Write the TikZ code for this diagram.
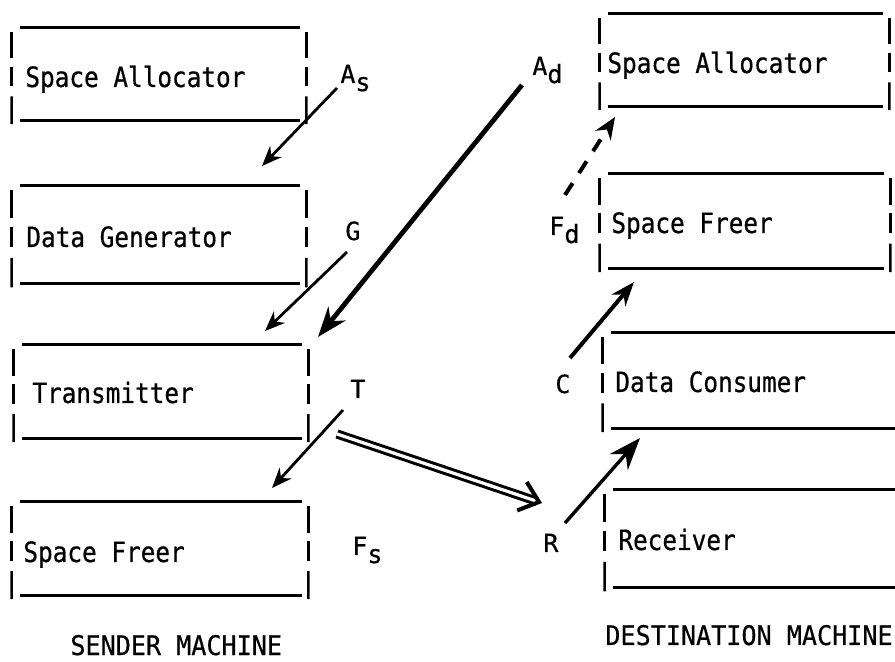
\documentclass[tikz,border=0pt]{standalone}
\usepackage{fontspec}
\usetikzlibrary{arrows.meta,calc,fit}
\newfontfamily\boxfont[FakeStretch=0.87,FakeBold=0.6]{DejaVu Sans Mono}
\newfontfamily\lblfont[FakeBold=0.6]{DejaVu Sans Mono}
\newfontfamily\machfont[FakeStretch=0.93,FakeBold=0.5]{DejaVu Sans Mono}
\newcommand\lowsub[1]{\raisebox{-4pt}{#1}}
\newcommand\mybxframe[2]{%
  \draw[boxline] ([xshift=4pt]#1.north west) -- ([xshift=-3pt]#1.north east);
  \draw[boxline] ([xshift=4pt]#1.south west) -- ([xshift=-3pt]#1.south east);
  \foreach \s in {#2}{%
    \draw[tickline] ($(#1.north \s)!0.05!(#1.south \s)$) -- ($(#1.north \s)!0.33!(#1.south \s)$);
    \draw[tickline] ($(#1.north \s)!0.42!(#1.south \s)$) -- ($(#1.north \s)!0.63!(#1.south \s)$);
    \draw[tickline] ($(#1.north \s)!0.74!(#1.south \s)$) -- ($(#1.north \s)!1.04!(#1.south \s)$);
  }}
\tikzset{
  boxn/.style={inner sep=0pt, draw=none},
  boxline/.style={line width=1.3pt},
  tickline/.style={line width=1.2pt},
  btext/.style={inner sep=0pt, anchor=base west, font=\boxfont\fontsize{14}{16}\selectfont},
  lbl/.style={inner sep=0pt, anchor=base west, font=\lblfont\fontsize{12.5}{14}\selectfont},
  mach/.style={inner sep=0pt, anchor=base west, font=\machfont\fontsize{13.5}{15}\selectfont},
  thinarrow/.style={line width=1.4pt, -{Stealth[length=10pt,width=8pt]}},
  thickarrow/.style={line width=2.4pt, -{Stealth[length=15pt,width=11pt]}},
  dblarrow/.style={line width=1.5pt, double, double distance=1.6pt, -{Straight Barb[length=9pt,width=15pt,line width=2pt]}},
  rarrow/.style={line width=1.7pt, -{Stealth[length=16pt,width=12pt]}},
  carrow/.style={line width=2pt, -{Stealth[length=12pt,width=9pt]}},
  farrow/.style={line width=2pt, dash pattern=on 7pt off 6pt, -{Stealth[length=11pt,width=9pt]}},
}
\begin{document}
\begin{tikzpicture}[x=0.5pt,y=-0.5pt]
\useasboundingbox (0,0) rectangle (895,662);
% sender boxes
\node[boxn, fit={(12,28) (306,120)}] (sa1) {};
\node[boxn, fit={(12,186) (306,283)}] (dg) {};
\node[boxn, fit={(14,345) (308,438)}] (tr) {};
\node[boxn, fit={(12,502) (308,595)}] (sf1) {};
% destination boxes
\node[boxn, fit={(600,14) (889,106)}] (sa2) {};
\node[boxn, fit={(600,174) (890,268)}] (sf2) {};
\node[boxn, fit={(603,333) (905,428)}] (dc) {};
\node[boxn, fit={(605,490) (905,587)}] (rc) {};
\mybxframe{sa1}{west,east}
\mybxframe{dg}{west,east}
\mybxframe{tr}{west,east}
\mybxframe{sf1}{west,east}
\mybxframe{sa2}{west,east}
\mybxframe{sf2}{west,east}
\mybxframe{dc}{west}
\mybxframe{rc}{west}
% box texts
\node[btext] (tsa1) at (25,87) {Space Allocator};
\node[btext] (tdg) at (26,247) {Data Generator};
\node[btext] (ttr) at (32,403) {Transmitter};
\node[btext] (tsf1) at (23,562) {Space Freer};
\node[btext] (tsa2) at (607,73) {Space Allocator};
\node[btext] (tsf2) at (611,233) {Space Freer};
\node[btext] (tdc) at (615,392) {Data Consumer};
\node[btext] (trc) at (618,550) {Receiver};
% labels
\node[lbl] (las) at (340,83) {A\lowsub{s}};
\node[lbl] (lad) at (532,75) {A\lowsub{d}};
\node[lbl] (lg) at (345,240) {G};
\node[lbl] (lfd) at (549,235) {F\lowsub{d}};
\node[lbl] (lt) at (350,398) {T};
\node[lbl] (lc) at (555,393) {C};
\node[lbl] (lfs) at (352,555) {F\lowsub{s}};
\node[lbl] (lr) at (543,552) {R};
\node[mach] (msend) at (70,655) {SENDER MACHINE};
\node[mach] (mdest) at (605,645) {DESTINATION MACHINE};
% arrow end points
\coordinate (asS) at (337,88);
\coordinate (asE) at (262,166);
\coordinate (adS) at (522,85);
\coordinate (adE) at (318,337);
\coordinate (gS) at (347,252);
\coordinate (gE) at (265,331);
\coordinate (tS) at (343,410);
\coordinate (tE) at (272,488);
\coordinate (trS) at (337,434);
\coordinate (trE) at (542,503);
\coordinate (rS) at (565,523);
\coordinate (rE) at (640,438);
\coordinate (cS) at (570,358);
\coordinate (cE) at (634,282);
\coordinate (fS) at (565,195);
\coordinate (fE) at (615,117);
% arrows
\draw[thinarrow] (asS) -- (asE);
\draw[thickarrow] (adS) -- (adE);
\draw[thinarrow] (gS) -- (gE);
\draw[thinarrow] (tS) -- (tE);
\draw[dblarrow] (trS) -- (trE);
\draw[rarrow] (rS) -- (rE);
\draw[carrow] (cS) -- (cE);
\draw[farrow] (fS) -- (fE);
\end{tikzpicture}
\end{document}
